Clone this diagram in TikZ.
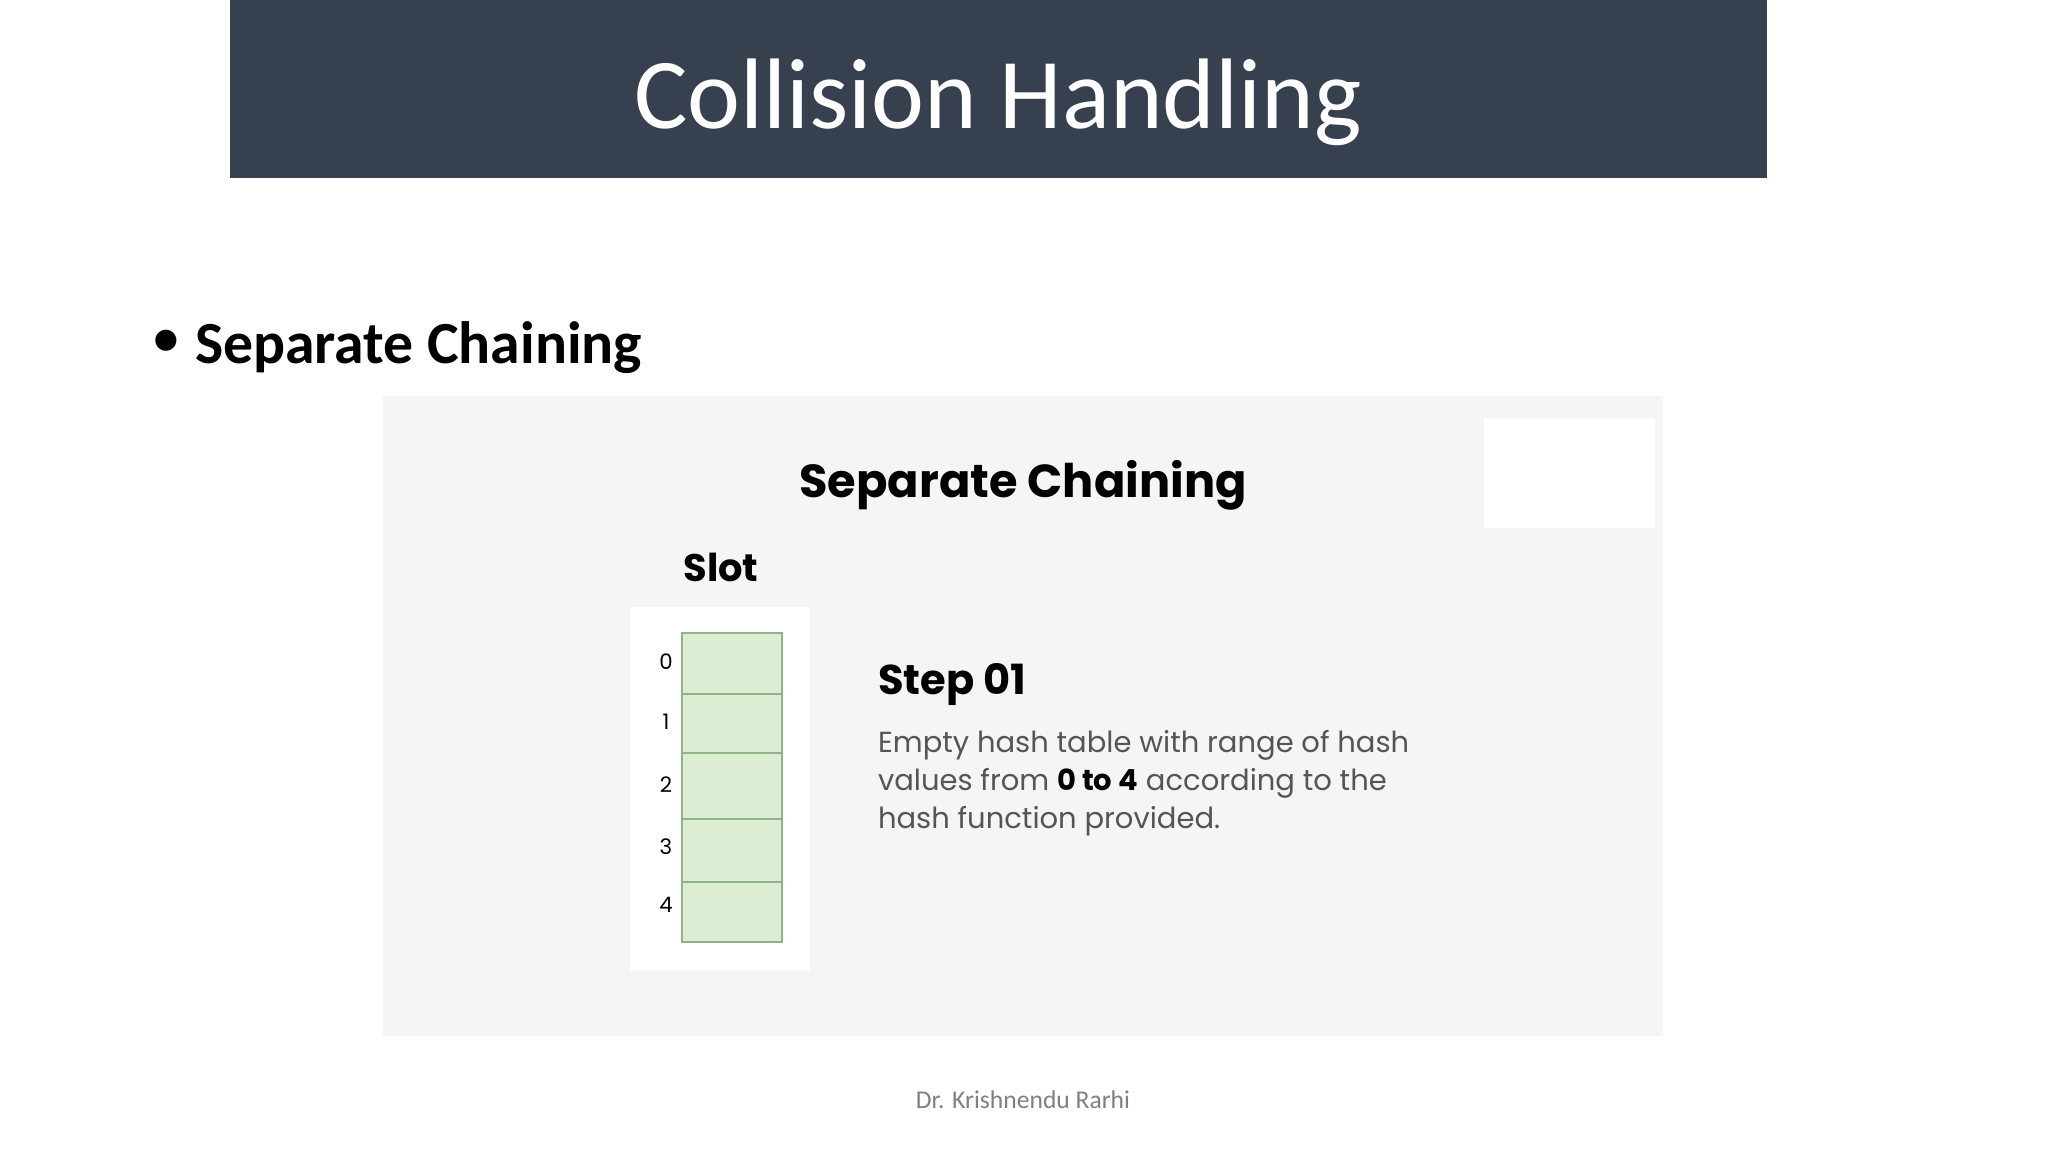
\documentclass[tikz,border=0pt]{standalone}
\usepackage{fontspec}
\setmainfont{Carlito}
\newfontfamily\pop{Poppins}
\definecolor{titlebar}{HTML}{36404F}
\definecolor{panel}{HTML}{F3F5F7}
\definecolor{slotfill}{HTML}{DDEDD4}
\definecolor{slotline}{HTML}{8DB585}
\definecolor{bodygray}{HTML}{555555}
\definecolor{footgray}{HTML}{808080}
\begin{document}
\begin{tikzpicture}[x=0.46875pt,y=-0.46875pt,
  slotbox/.style={draw=slotline,line width=1.2pt,fill=slotfill},
  idx/.style={font=\pop\fontsize{10}{12}\selectfont,text=black},
  every node/.style={inner sep=0pt,outer sep=0pt}]
\useasboundingbox (0,0) rectangle (2048,1152);
\fill[white] (0,0) rectangle (2048,1152);
% title bar
\fill[titlebar] (230,0) rectangle (1767,178);
\node[text=white,font=\fontsize{47}{52}\selectfont] (title) at (998,102) {Collision Handling};
% bullet
\node[font=\fontsize{28}{34}\selectfont] (bullet) at (166,344) {\textbullet};
\node[anchor=west,font=\bfseries\fontsize{28}{34}\selectfont] (sub) at (195,348) {Separate Chaining};
% panel
\fill[panel] (383,396) rectangle (1663,1036);
\fill[white] (1484,418) rectangle (1655,528);
\node[font=\pop\bfseries\fontsize{21.7}{26}\selectfont] (ptitle) at (1023,485) {Separate Chaining};
\node[font=\pop\bfseries\fontsize{18}{22}\selectfont] (slot) at (721,567) {Slot};
\fill[white] (630,607) rectangle (810,970);
\draw[slotbox] (682,633) rectangle (782,694);
\draw[slotbox] (682,694) rectangle (782,753);
\draw[slotbox] (682,753) rectangle (782,819);
\draw[slotbox] (682,819) rectangle (782,882);
\draw[slotbox] (682,882) rectangle (782,942);
\node[idx] (i0) at (666,662) {0};
\node[idx] (i1) at (666,722) {1};
\node[idx] (i2) at (666,785) {2};
\node[idx] (i3) at (666,847) {3};
\node[idx] (i4) at (666,905) {4};
\node[anchor=west,font=\pop\bfseries\fontsize{19.5}{23}\selectfont] (step) at (878,685) {Step 01};
\node[anchor=north west,align=left,text=bodygray,font=\pop\fontsize{13.6}{18}\selectfont] (body) at (878,730)
 {Empty hash table with range of hash\\values from {\color{black}\bfseries 0 to 4} according to the\\hash function provided.};
% footer
\node[text=footgray,font=\fontsize{12}{14}\selectfont] (foot) at (1023,1100) {Dr. Krishnendu Rarhi};
\end{tikzpicture}
\end{document}
